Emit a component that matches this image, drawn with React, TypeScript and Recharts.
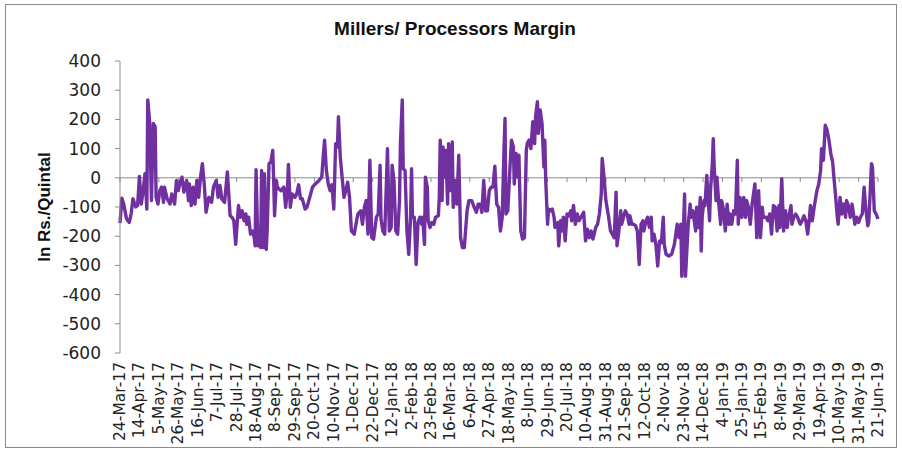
import { LineChart, Line, XAxis, YAxis, ReferenceLine } from 'recharts'

const tickLabels = [
  '24-Mar-17', '14-Apr-17', '5-May-17', '26-May-17', '16-Jun-17', '7-Jul-17', '28-Jul-17', '18-Aug-17',
  '8-Sep-17', '29-Sep-17', '20-Oct-17', '10-Nov-17', '1-Dec-17', '22-Dec-17', '12-Jan-18', '2-Feb-18',
  '23-Feb-18', '16-Mar-18', '6-Apr-18', '27-Apr-18', '18-May-18', '8-Jun-18', '29-Jun-18', '20-Jul-18',
  '10-Aug-18', '31-Aug-18', '21-Sep-18', '12-Oct-18', '2-Nov-18', '23-Nov-18', '14-Dec-18', '4-Jan-19',
  '25-Jan-19', '15-Feb-19', '8-Mar-19', '29-Mar-19', '19-Apr-19', '10-May-19', '31-May-19', '21-Jun-19',
]
// labels are three weeks apart, counted in days from 24-Mar-17
const tickDays = tickLabels.map((_, i) => i * 21)

const yTicks = [-600, -500, -400, -300, -200, -100, 0, 100, 200, 300, 400]

// [days since 24-Mar-17, margin in Rs./quintal]
const margins: [number, number][] = [
  [0, -155], [2, -70], [4, -90], [7, -140], [10, -153], [12, -124], [14, -72], [17, -100], [19, -95], [21, 5],
  [23, -90], [25, -44], [27, 14], [29, -107], [30, 267], [32, 192], [34, -78], [36, 186], [38, 175], [39, -67],
  [41, -90], [43, -44], [45, -32], [47, -84], [48, -32], [51, -72], [54, -90], [56, -55], [59, -90], [61, -9],
  [63, -44], [65, -15], [67, 2], [69, -49], [72, -9], [74, -78], [75, -21], [77, -95], [79, -32], [81, -90],
  [83, -9], [85, -67], [87, 2], [89, 48], [91, -21], [93, -118], [96, -67], [99, -84], [101, -32], [104, -9],
  [106, -67], [108, -26], [110, -72], [113, -84], [115, -15], [116, 20], [119, -130], [121, -135], [123, -147], [125, -228],
  [128, -95], [130, -135], [132, -113], [134, -147], [136, -124], [137, -159], [139, -135], [141, -193], [143, -182], [145, -205],
  [146, -233], [147, 28], [149, -233], [150, -182], [152, -239], [153, 25], [155, -239], [156, 14], [158, -245], [159, -182],
  [161, 48], [163, 54], [165, 94], [166, -3], [167, -130], [169, -9], [170, -32], [172, -38], [174, -44], [177, -32],
  [179, -101], [181, -32], [182, 46], [184, -101], [186, -55], [189, -67], [191, -55], [193, -24], [195, -72], [197, -72],
  [200, -107], [202, -101], [205, -67], [208, -32], [211, -21], [215, -9], [218, 2], [219, 48], [221, 129], [223, 25],
  [225, -21], [227, -44], [229, -24], [231, -107], [233, 117], [235, 106], [236, 209], [238, 71], [240, 2], [242, -67],
  [244, -44], [246, -15], [248, -67], [250, -182], [253, -193], [255, -159], [257, -124], [260, -113], [262, -159], [264, -101],
  [266, -78], [268, -193], [270, 60], [272, -205], [274, -210], [277, -135], [279, -124], [281, 43], [282, -141], [284, -182],
  [286, -193], [288, -3], [289, 100], [291, -182], [293, -170], [294, 43], [296, -9], [298, -182], [300, -193], [302, -78],
  [303, 117], [305, 267], [306, 31], [308, 25], [310, -182], [312, -262], [314, -135], [315, 31], [316, -135], [318, -135],
  [320, -297], [322, -153], [324, -135], [326, -159], [327, -135], [329, -228], [330, 2], [332, -32], [333, -147], [335, -170],
  [337, -153], [339, -159], [341, -135], [344, -130], [345, -67], [346, 129], [348, -78], [349, 106], [351, 2], [352, 94],
  [354, -90], [355, 117], [357, -44], [359, 123], [360, -101], [362, -9], [364, -90], [366, 77], [368, -205], [370, -239],
  [372, -239], [375, -113], [377, -78], [380, -78], [382, -95], [385, -118], [387, -90], [389, -90], [391, -118], [393, -9],
  [395, -113], [397, -113], [399, -44], [401, -32], [403, -32], [405, 40], [407, -90], [409, -101], [411, -182], [413, -135],
  [415, 106], [416, 203], [417, -124], [419, -113], [421, 14], [423, 129], [425, 106], [426, -21], [428, 83], [430, 2],
  [431, 77], [433, -182], [435, -210], [437, -205], [439, 94], [440, 117], [442, 129], [444, 100], [446, 192], [448, 117],
  [449, 209], [451, 261], [452, 152], [454, 232], [456, 186], [458, 37], [459, 129], [460, -9], [462, -159], [463, -107],
  [465, -113], [467, -107], [469, -135], [470, -170], [473, -153], [474, -233], [476, -147], [478, -182], [479, -135], [481, -216],
  [483, -124], [485, -130], [487, -113], [488, -147], [490, -95], [492, -159], [494, -124], [496, -147], [498, -135], [501, -118],
  [503, -216], [505, -176], [507, -205], [509, -182], [511, -210], [514, -170], [516, -159], [518, -124], [520, -55], [521, 66],
  [523, 2], [525, -78], [528, -135], [530, -182], [532, -193], [534, -205], [536, -49], [537, -233], [539, -182], [541, -113],
  [542, -159], [544, -135], [546, -113], [548, -124], [550, -159], [551, -130], [553, -159], [555, -159], [557, -164], [559, -182],
  [561, -297], [563, -159], [565, -147], [566, -182], [568, -153], [570, -135], [572, -170], [574, -135], [575, -216], [577, -193],
  [579, -228], [581, -302], [583, -216], [585, -222], [587, -135], [588, -228], [590, -262], [593, -268], [596, -262], [599, -228],
  [601, -182], [602, -159], [604, -205], [606, -159], [607, -337], [609, -159], [610, -55], [611, -337], [613, -216], [614, -159],
  [616, -90], [617, -135], [619, -113], [622, -182], [623, -101], [625, -170], [627, -67], [628, -251], [629, -135], [631, -78],
  [632, -95], [634, 8], [635, -44], [637, -147], [638, -44], [640, 48], [641, 134], [642, 37], [644, -78], [645, 2],
  [647, -90], [649, -159], [650, -78], [652, -107], [654, -182], [656, -90], [658, -159], [659, -124], [661, -159], [663, -113],
  [665, -124], [667, 60], [668, -159], [670, -67], [672, -135], [674, -67], [676, -135], [677, -78], [679, -101], [681, -159],
  [683, -90], [686, -21], [688, -205], [690, -44], [692, -205], [694, -101], [695, -135], [698, -135], [700, -147], [702, -124],
  [704, -193], [706, -95], [708, -101], [710, -182], [712, -95], [713, -170], [715, -3], [717, -182], [719, -113], [721, -170],
  [722, -141], [725, -95], [726, -159], [728, -135], [730, -124], [732, -135], [735, -159], [737, -147], [739, -130], [741, -147],
  [743, -193], [745, -135], [746, -95], [748, -147], [750, -101], [753, -44], [755, -21], [757, 25], [758, 100], [760, 60],
  [762, 180], [764, 163], [766, 129], [768, 83], [770, 54], [771, 14], [773, -55], [775, -135], [776, -159], [778, -67],
  [780, -124], [782, -90], [784, -135], [785, -78], [787, -95], [789, -135], [791, -90], [794, -159], [796, -135], [798, -153],
  [800, -135], [802, -124], [804, -32], [806, -113], [808, -164], [809, -153], [812, 48], [813, 37], [815, -113], [817, -124],
  [819, -141],
]

const data = margins.map(([day, margin]) => ({ day, margin }))

const font = '"Liberation Sans", Arial, sans-serif'
const tickFont = '"DejaVu Sans", sans-serif'

function DateTick({ x, y, payload }: any) {
  const label = tickLabels[Math.round(payload.value / 21)]
  return (
    <text
      x={x} y={y} transform={`rotate(-90 ${x} ${y})`}
      textAnchor="end" dominantBaseline="central"
      fontSize={15.5} fill="#222" fontFamily={tickFont}
    >
      {label}
    </text>
  )
}

export default function App() {
  return (
    <div style={{ position: 'absolute', left: 0, top: 0, width: 902, height: 453, background: '#fff' }}>
      <div style={{
        position: 'absolute', left: 5, top: 4, width: 890, height: 442,
        border: '1px solid #8a8a8a',
      }} />
      <div style={{
        position: 'absolute', left: 0, top: 18, width: 910, textAlign: 'center',
        fontFamily: font, fontWeight: 'bold', fontSize: 19, color: '#111',
      }}>
        Millers/ Processors Margin
      </div>
      <div style={{ position: 'absolute', left: 0, top: 0 }}>
        <LineChart width={902} height={453} data={data} margin={{ top: 61, right: 24, left: 0, bottom: 0 }}>
          <XAxis
            dataKey="day" type="number" domain={[0, 819]} ticks={tickDays}
            axisLine={false} tickLine={false} tickSize={0} tickMargin={9}
            height={100} interval={0} tick={<DateTick />}
          />
          <YAxis
            domain={[-600, 400]} ticks={yTicks} interval={0} width={120}
            axisLine={{ stroke: '#8c8c8c' }} tickLine={{ stroke: '#8c8c8c' }} tickSize={5} tickMargin={14}
            tick={{ fontSize: 17, fill: '#222', fontFamily: tickFont }}
            label={{
              value: 'In Rs./Quintal', angle: -90, position: 'insideLeft', offset: 44,
              style: { fontSize: 17, fontWeight: 'bold', fill: '#111', fontFamily: font, textAnchor: 'middle' },
            }}
          />
          <ReferenceLine y={0} stroke="#8c8c8c" strokeWidth={1} />
          {tickDays.map((d) => (
            <ReferenceLine key={d} segment={[{ x: d, y: 0 }, { x: d, y: -15 }]} stroke="#8c8c8c" />
          ))}
          <Line
            type="linear" dataKey="margin" stroke="#7030A0" strokeWidth={3.4}
            dot={false} isAnimationActive={false} strokeLinejoin="round"
          />
        </LineChart>
      </div>
    </div>
  )
}
